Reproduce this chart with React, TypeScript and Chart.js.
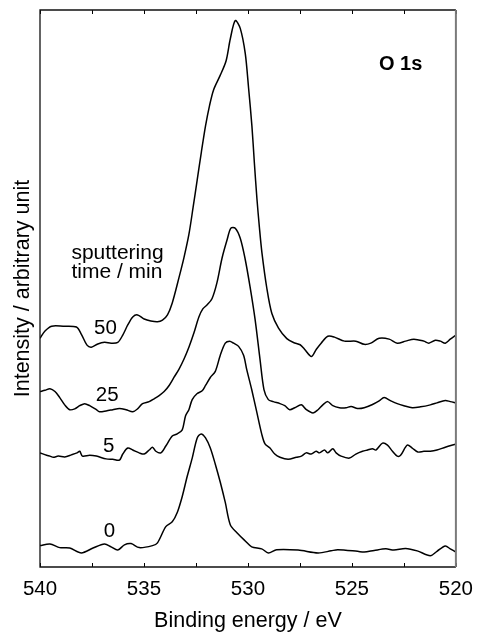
import React, { useEffect, useRef } from "react";
import { Chart, registerables } from "chart.js";

Chart.register(...registerables);

// ---- data (binding energy in eV, intensity in arbitrary units, offset per spectrum) ----
const energy0 = [540.00,539.52,539.05,538.57,538.01,537.45,536.90,536.58,536.26,535.94,535.62,535.23,534.59,534.35,533.95,533.64,533.40,533.16,532.92,532.68,532.44,532.25,532.04,531.81,531.57,531.33,531.09,530.85,530.53,530.14,529.82,529.34,529.02,528.62,527.59,526.63,526.00,525.68,524.73,524.41,523.93,523.37,522.98,522.42,521.86,521.23,520.91,520.51,520.27,520.00];
const intensity0 = [3.84,4.13,3.48,3.40,2.53,3.40,4.13,3.62,3.04,3.98,4.20,3.48,3.84,4.34,7.24,8.11,9.78,12.67,16.29,19.55,23.17,23.90,23.17,21.36,18.46,15.21,11.59,7.60,6.15,4.71,3.62,3.26,2.53,3.11,3.04,2.53,2.90,3.11,2.82,2.68,2.97,3.26,3.04,3.33,2.90,2.03,2.82,3.77,3.26,2.68];

const energy5 = [540.00,539.68,539.52,539.36,539.12,538.81,538.49,538.22,538.09,537.96,537.61,537.29,536.82,536.50,536.18,536.02,535.78,535.54,535.23,534.99,534.75,534.59,534.43,534.19,533.95,533.64,533.40,533.16,533.00,532.84,532.68,532.44,532.20,532.04,531.81,531.57,531.33,531.09,530.88,530.69,530.45,530.21,530.06,529.82,529.58,529.34,529.18,528.94,528.71,528.46,528.07,527.67,527.43,527.20,526.96,526.72,526.56,526.32,526.16,525.92,525.76,525.52,525.12,524.81,524.49,524.25,524.01,523.85,523.53,523.29,523.05,522.82,522.66,522.34,522.10,521.83,521.54,521.23,520.91,520.51,520.00];
const intensity5 = [20.49,20.06,19.91,19.70,19.91,19.77,20.13,20.49,20.78,19.91,20.06,19.91,19.41,19.33,19.19,20.28,21.36,21.00,20.49,20.28,21.00,21.51,20.78,20.49,21.72,23.53,23.90,24.62,27.15,28.24,30.05,31.14,31.64,32.59,34.03,35.12,38.02,40.19,40.55,40.19,39.61,38.02,35.48,31.86,27.88,23.90,22.09,21.36,20.28,19.70,19.33,19.70,19.91,20.49,20.28,20.78,20.49,21.00,20.49,21.22,20.49,19.91,19.55,20.28,20.78,21.00,21.22,21.00,22.23,21.87,20.78,19.91,20.06,21.87,21.36,20.64,20.78,20.78,21.00,21.51,22.09];

const energy25 = [540.00,539.76,539.52,539.28,539.05,538.81,538.57,538.33,538.09,537.85,537.61,537.29,537.14,536.82,536.50,536.18,535.86,535.54,535.31,535.07,534.75,534.51,534.27,534.03,533.79,533.56,533.32,533.08,532.84,532.60,532.36,532.17,531.96,531.73,531.49,531.25,531.01,530.82,530.61,530.37,530.14,529.90,529.66,529.42,529.23,529.02,528.78,528.46,528.23,527.99,527.75,527.43,527.19,526.87,526.63,526.40,526.16,525.92,525.60,525.28,525.04,524.73,524.41,524.01,523.69,523.45,523.13,522.82,522.50,522.10,521.70,521.23,520.91,520.51,520.27,520.00];
const intensity25 = [31.50,31.72,32.01,31.50,30.41,29.11,28.24,28.39,28.96,29.33,28.96,28.24,27.88,28.02,28.24,28.46,28.24,27.88,28.39,29.33,29.69,30.20,30.77,31.50,32.59,34.03,35.48,37.29,39.46,42.00,44.89,46.34,47.07,48.15,51.05,55.39,58.65,60.83,60.83,59.02,55.39,50.33,44.53,37.29,31.86,30.05,29.69,29.33,28.96,28.24,28.60,29.11,28.24,27.66,28.24,29.11,29.69,28.96,28.60,28.60,28.82,28.46,28.60,29.18,29.83,30.41,29.83,29.33,28.96,28.60,28.75,29.11,29.47,29.91,29.69,29.47];

const energy50 = [540.00,539.76,539.44,538.89,538.25,538.01,537.74,537.53,537.22,536.90,536.58,536.26,536.02,535.78,535.54,535.31,534.99,534.67,534.35,534.11,533.87,533.64,533.32,533.08,532.84,532.64,532.44,532.24,532.04,531.85,531.65,531.33,531.05,530.85,530.61,530.37,530.13,529.97,529.81,529.69,529.57,529.45,529.33,529.09,528.85,528.53,528.13,527.81,527.49,527.28,526.95,526.71,526.48,526.16,525.84,525.36,524.81,524.41,524.09,523.69,523.21,522.82,522.42,522.02,521.54,521.30,520.99,520.75,520.51,520.27,520.00];
const intensity50 = [41.06,42.36,43.23,43.23,43.08,41.78,39.83,39.46,40.04,40.33,40.19,40.33,41.64,43.45,44.89,45.26,44.53,44.17,44.03,44.32,45.26,47.4,51.9,55.5,59.7,64.5,69.5,74.5,79.2,82.8,85.7,88.3,90.9,94.8,98.1,96.7,92.2,86.0,79.2,72.5,66.2,61.0,56.5,50.0,45.5,42.9,41.0,40.3,39.9,39.1,37.8,39.10,40.19,41.42,41.27,40.55,40.55,39.97,40.19,41.06,40.91,40.19,40.55,40.91,40.55,40.19,40.70,40.55,40.19,40.91,41.64];

// tick marks (inward, every 2.5 eV)
const tickMarks = [540, 537.5, 535, 532.5, 530, 527.5, 525, 522.5, 520];

// curve labels (sputtering time / min) placed in data coordinates
const curveLabels = ["50", "25", "5", "0"];
const curveLabelX = [536.85, 536.77, 536.7, 536.66];
const curveLabelY = [42.9, 30.8, 21.75, 6.4];

const noteLines = ["sputtering", "time / min"];
const noteX = 538.49;
const noteY = [56.3, 52.85];

const peakTitle = "O 1s";
const peakTitleX = 522.66;
const peakTitleY = 90.2;

const FONT = '"Liberation Sans", Arial, Helvetica, sans-serif';

function zip(e: number[], v: number[]) {
  return e.map((x, i) => ({ x, y: v[i] }));
}

const overlayPlugin = {
  id: "overlay",
  afterDatasetsDraw(chart: any) {
    const { ctx, chartArea, scales } = chart;
    const { left, right, top, bottom } = chartArea;
    const x = scales.x;
    const y = scales.y;
    ctx.save();
    // tick marks
    ctx.strokeStyle = "#000";
    ctx.lineWidth = 1;
    for (const t of tickMarks) {
      const px = Math.round(x.getPixelForValue(t)) + 0.5;
      ctx.beginPath();
      ctx.moveTo(px, bottom);
      ctx.lineTo(px, bottom - 4);
      ctx.moveTo(px, top);
      ctx.lineTo(px, top + 4);
      ctx.stroke();
    }
    // frame
    ctx.lineWidth = 1.3;
    ctx.strokeStyle = "#111";
    ctx.beginPath();
    ctx.moveTo(right, top);
    ctx.lineTo(left, top);
    ctx.lineTo(left, bottom);
    ctx.lineTo(right, bottom);
    ctx.stroke();
    ctx.strokeStyle = "#7a7a7a";
    ctx.lineWidth = 2;
    ctx.beginPath();
    ctx.moveTo(right, top);
    ctx.lineTo(right, bottom);
    ctx.stroke();

    // texts
    ctx.fillStyle = "#000";
    ctx.textBaseline = "middle";
    ctx.font = `20.5px ${FONT}`;
    ctx.textAlign = "center";
    curveLabels.forEach((t, i) => {
      ctx.fillText(t, x.getPixelForValue(curveLabelX[i]), y.getPixelForValue(curveLabelY[i]));
    });
    ctx.font = `21px ${FONT}`;
    ctx.textAlign = "left";
    noteLines.forEach((t, i) => {
      ctx.fillText(t, x.getPixelForValue(noteX), y.getPixelForValue(noteY[i]));
    });
    ctx.textAlign = "center";
    ctx.font = `bold 20px ${FONT}`;
    ctx.fillText(peakTitle, x.getPixelForValue(peakTitleX), y.getPixelForValue(peakTitleY));
    ctx.restore();
  },
};

export default function App() {
  const ref = useRef<HTMLCanvasElement | null>(null);
  useEffect(() => {
    if (!ref.current) return;
    const mk = (e: number[], v: number[]) => ({
      data: zip(e, v),
      borderColor: "#000",
      borderWidth: 1.5,
      pointRadius: 0,
      tension: 0.3,
      fill: false,
    });
    const chart = new Chart(ref.current, {
      type: "line",
      data: {
        datasets: [
          mk(energy0, intensity0),
          mk(energy5, intensity5),
          mk(energy25, intensity25),
          mk(energy50, intensity50),
        ],
      },
      options: {
        animation: false,
        responsive: false,
        devicePixelRatio: 1,
        layout: { padding: { top: 10, right: 25, left: 0, bottom: 0 } },
        plugins: { legend: { display: false }, tooltip: { enabled: false } },
        scales: {
          x: {
            type: "linear",
            reverse: true,
            min: 520,
            max: 540,
            ticks: { stepSize: 5, padding: 10, color: "#000", font: { size: 20.5, family: FONT } },
            grid: { display: false, drawTicks: false },
            border: { display: false },
            title: {
              display: true,
              text: "Binding energy / eV",
              color: "#000",
              font: { size: 21.5, family: FONT, lineHeight: 1 },
              padding: { top: 4, bottom: 0 },
            },
            afterFit: (s: any) => {
              s.height = 65;
            },
          },
          y: {
            type: "linear",
            min: 0,
            max: 100,
            ticks: { display: false },
            grid: { display: false, drawTicks: false },
            border: { display: false },
            title: {
              display: true,
              text: "Intensity / arbitrary unit",
              color: "#000",
              font: { size: 21.5, family: FONT, lineHeight: 1 },
              padding: { top: 12, bottom: 0 },
            },
            afterFit: (s: any) => {
              s.width = 40;
            },
          },
        },
      },
      plugins: [overlayPlugin],
    });
    return () => chart.destroy();
  }, []);
  return (
    <div style={{ position: "absolute", left: 0, top: 0, width: 483, height: 632, background: "#fff" }}>
      <canvas ref={ref} width={483} height={632} />
    </div>
  );
}
